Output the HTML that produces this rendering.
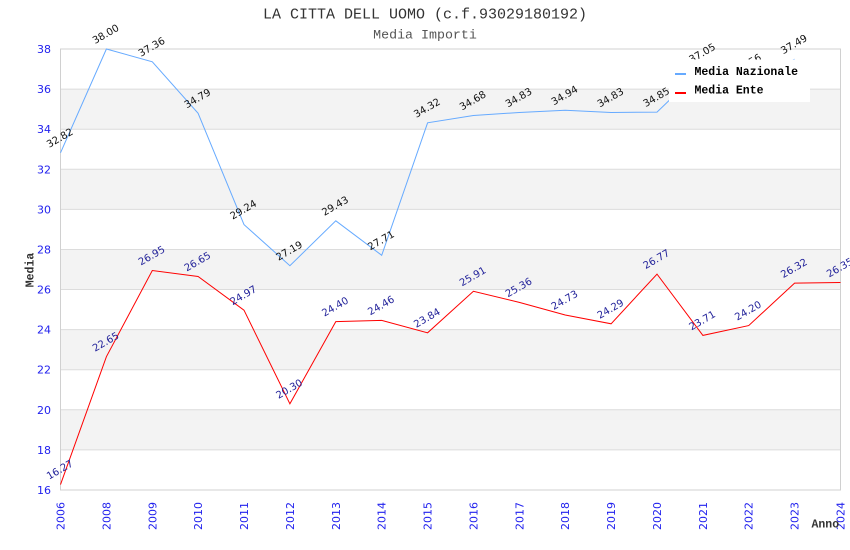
<!DOCTYPE html>
<html><head><meta charset="utf-8"><style>
html,body{margin:0;padding:0;background:#fff;}
svg{display:block;}
.t{font-family:"Liberation Mono","DejaVu Sans Mono",monospace;}
.s{font-family:"DejaVu Sans","Liberation Sans",sans-serif;}
</style></head><body>
<svg width="850" height="550" viewBox="0 0 850 550" xmlns="http://www.w3.org/2000/svg">
<rect width="850" height="550" fill="#fff"/>
<text class="t" x="425" y="18.5" text-anchor="middle" font-size="15" fill="#333">LA CITTA DELL UOMO (c.f.93029180192)</text>
<text class="t" x="425" y="38.5" text-anchor="middle" font-size="13.3" fill="#555">Media Importi</text>
<g fill="#f3f3f3">
<rect x="60.5" y="89.1" width="780" height="40.1"/>
<rect x="60.5" y="169.3" width="780" height="40.1"/>
<rect x="60.5" y="249.5" width="780" height="40.1"/>
<rect x="60.5" y="329.6" width="780" height="40.1"/>
<rect x="60.5" y="409.8" width="780" height="40.1"/>
</g>
<g stroke="#dcdcdc" stroke-width="1">
<line x1="60.5" x2="840.5" y1="89.1" y2="89.1"/>
<line x1="60.5" x2="840.5" y1="129.2" y2="129.2"/>
<line x1="60.5" x2="840.5" y1="169.3" y2="169.3"/>
<line x1="60.5" x2="840.5" y1="209.4" y2="209.4"/>
<line x1="60.5" x2="840.5" y1="249.5" y2="249.5"/>
<line x1="60.5" x2="840.5" y1="289.5" y2="289.5"/>
<line x1="60.5" x2="840.5" y1="329.6" y2="329.6"/>
<line x1="60.5" x2="840.5" y1="369.7" y2="369.7"/>
<line x1="60.5" x2="840.5" y1="409.8" y2="409.8"/>
<line x1="60.5" x2="840.5" y1="449.9" y2="449.9"/>
</g>
<rect x="60.5" y="49" width="780" height="441" fill="none" stroke="#d0d0d0" stroke-width="1"/>
<g class="s" font-size="11" fill="#2222ee" text-anchor="end">
<text x="51" y="53">38</text>
<text x="51" y="93.1">36</text>
<text x="51" y="133.2">34</text>
<text x="51" y="173.3">32</text>
<text x="51" y="213.4">30</text>
<text x="51" y="253.5">28</text>
<text x="51" y="293.5">26</text>
<text x="51" y="333.6">24</text>
<text x="51" y="373.7">22</text>
<text x="51" y="413.8">20</text>
<text x="51" y="453.9">18</text>
<text x="51" y="494">16</text>
</g>
<g class="s" font-size="11" fill="#2222ee" text-anchor="end">
<text transform="translate(64.5,502) rotate(-90)">2006</text>
<text transform="translate(110.4,502) rotate(-90)">2008</text>
<text transform="translate(156.3,502) rotate(-90)">2009</text>
<text transform="translate(202.1,502) rotate(-90)">2010</text>
<text transform="translate(248,502) rotate(-90)">2011</text>
<text transform="translate(293.9,502) rotate(-90)">2012</text>
<text transform="translate(339.8,502) rotate(-90)">2013</text>
<text transform="translate(385.7,502) rotate(-90)">2014</text>
<text transform="translate(431.6,502) rotate(-90)">2015</text>
<text transform="translate(477.4,502) rotate(-90)">2016</text>
<text transform="translate(523.3,502) rotate(-90)">2017</text>
<text transform="translate(569.2,502) rotate(-90)">2018</text>
<text transform="translate(615.1,502) rotate(-90)">2019</text>
<text transform="translate(661,502) rotate(-90)">2020</text>
<text transform="translate(706.9,502) rotate(-90)">2021</text>
<text transform="translate(752.7,502) rotate(-90)">2022</text>
<text transform="translate(798.6,502) rotate(-90)">2023</text>
<text transform="translate(844.5,502) rotate(-90)">2024</text>
</g>
<text class="t" transform="translate(33.5,270) rotate(-90)" text-anchor="middle" font-size="11.5" font-weight="bold" fill="#333">Media</text>
<text class="t" x="811.5" y="527.5" font-size="11.5" font-weight="bold" fill="#333">Anno</text>
<polyline fill="none" stroke="#66aaff" stroke-width="1" points="60.5,152.8 106.4,49 152.3,61.8 198.1,113.3 244,224.6 289.9,265.7 335.8,220.8 381.7,255.3 427.6,122.8 473.4,115.5 519.3,112.5 565.2,110.3 611.1,112.5 657,112.1 702.9,68 748.7,78.5 794.6,59.2"/>
<polyline fill="none" stroke="#ff0000" stroke-width="1" points="60.5,484.6 106.4,356.7 152.3,270.5 198.1,276.5 244,310.2 289.9,403.8 335.8,321.6 381.7,320.4 427.6,332.8 473.4,291.3 519.3,302.4 565.2,315 611.1,323.8 657,274.1 702.9,335.4 748.7,325.6 794.6,283.1 840.5,282.5"/>
<g class="s" font-size="10" fill="#111" text-anchor="middle">
<text transform="translate(61.5,140.8) rotate(-30)">32.82</text>
<text transform="translate(107.4,37) rotate(-30)">38.00</text>
<text transform="translate(153.3,49.8) rotate(-30)">37.36</text>
<text transform="translate(199.1,101.3) rotate(-30)">34.79</text>
<text transform="translate(245,212.6) rotate(-30)">29.24</text>
<text transform="translate(290.9,253.7) rotate(-30)">27.19</text>
<text transform="translate(336.8,208.8) rotate(-30)">29.43</text>
<text transform="translate(382.7,243.3) rotate(-30)">27.71</text>
<text transform="translate(428.6,110.8) rotate(-30)">34.32</text>
<text transform="translate(474.4,103.5) rotate(-30)">34.68</text>
<text transform="translate(520.3,100.5) rotate(-30)">34.83</text>
<text transform="translate(566.2,98.3) rotate(-30)">34.94</text>
<text transform="translate(612.1,100.5) rotate(-30)">34.83</text>
<text transform="translate(658,100.1) rotate(-30)">34.85</text>
<text transform="translate(703.9,56) rotate(-30)">37.05</text>
<text transform="translate(749.7,66.5) rotate(-30)">36.56</text>
<text transform="translate(795.6,47.2) rotate(-30)">37.49</text>
</g>
<g class="s" font-size="10" fill="#22229a" text-anchor="middle">
<text transform="translate(61.5,472.6) rotate(-30)">16.27</text>
<text transform="translate(107.4,344.7) rotate(-30)">22.65</text>
<text transform="translate(153.3,258.5) rotate(-30)">26.95</text>
<text transform="translate(199.1,264.5) rotate(-30)">26.65</text>
<text transform="translate(245,298.2) rotate(-30)">24.97</text>
<text transform="translate(290.9,391.8) rotate(-30)">20.30</text>
<text transform="translate(336.8,309.6) rotate(-30)">24.40</text>
<text transform="translate(382.7,308.4) rotate(-30)">24.46</text>
<text transform="translate(428.6,320.8) rotate(-30)">23.84</text>
<text transform="translate(474.4,279.3) rotate(-30)">25.91</text>
<text transform="translate(520.3,290.4) rotate(-30)">25.36</text>
<text transform="translate(566.2,303) rotate(-30)">24.73</text>
<text transform="translate(612.1,311.8) rotate(-30)">24.29</text>
<text transform="translate(658,262.1) rotate(-30)">26.77</text>
<text transform="translate(703.9,323.4) rotate(-30)">23.71</text>
<text transform="translate(749.7,313.6) rotate(-30)">24.20</text>
<text transform="translate(795.6,271.1) rotate(-30)">26.32</text>
<text transform="translate(841.5,270.5) rotate(-30)">26.35</text>
</g>
<rect x="669" y="59.5" width="141" height="42.5" fill="#fff"/>
<rect x="675" y="73" width="11" height="2" fill="#66aaff"/>
<rect x="675" y="92" width="11" height="2" fill="#ff0000"/>
<g class="t" font-size="11.5" font-weight="bold" fill="#000">
<text x="694.5" y="75">Media Nazionale</text>
<text x="694.5" y="93.5">Media Ente</text>
</g>
</svg>
</body></html>
